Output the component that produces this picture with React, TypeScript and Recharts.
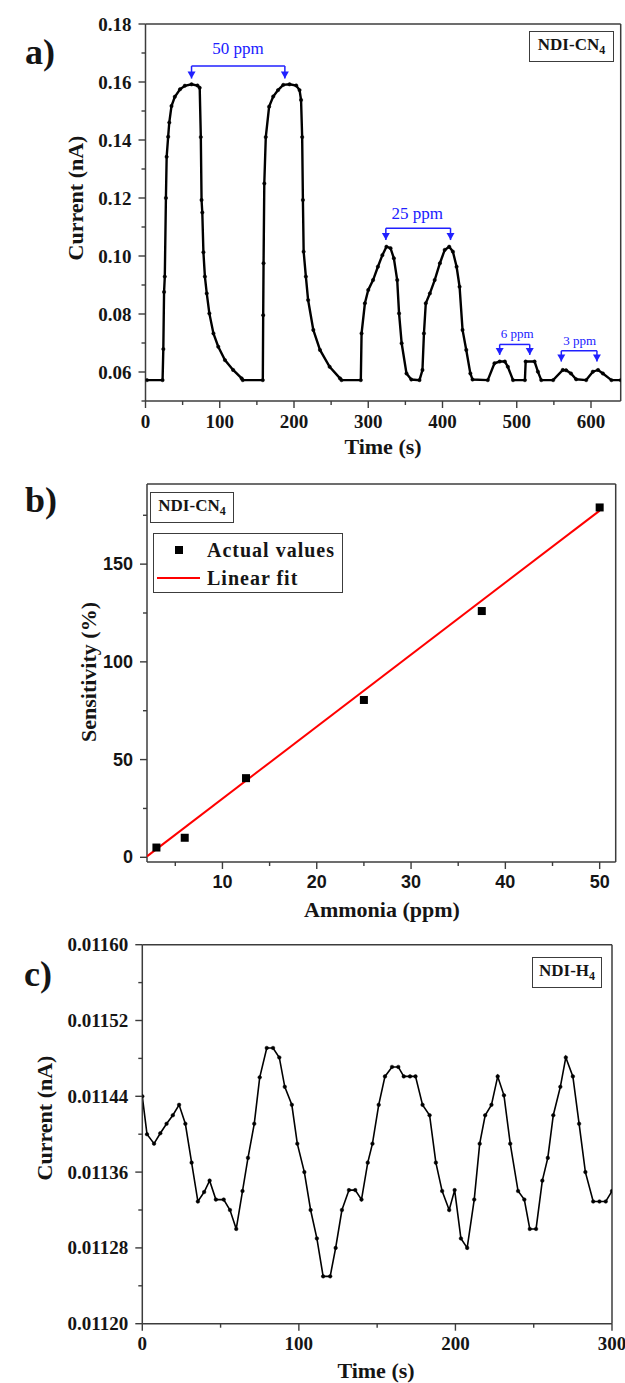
import React from 'react'
import { ComposedChart, Line, Scatter, XAxis, YAxis, ReferenceLine } from 'recharts'

const SERIF = "'Liberation Serif', 'Times New Roman', serif"
const SANS = "'Liberation Sans Narrow', 'Arial Narrow', 'Liberation Sans', Arial, sans-serif"
const BLUE = '#2020ff'
const AXIS = '#3c3c3c'
const INK = '#151515'

// ---- panel a: NDI-CN4 current vs time
const A_TIME = [
  2, 23, 24, 25, 26, 27.5, 28.5, 30.5, 32, 35,
  39.5, 46.5, 53, 62, 70, 73, 74.5, 75.5, 76.5, 78,
  80, 82.5, 86, 91.5, 98, 107, 118, 129.5, 131, 158,
  158.5, 159, 160, 162, 166.5, 172, 178.5, 185.5, 194, 203,
  207.5, 209.5, 211, 212, 213, 216, 219, 226, 235, 248,
  262, 264, 290, 291, 295.5, 300, 306.5, 313, 319, 324.5,
  330, 334.5, 339, 341.5, 345, 351.5, 358, 369, 373, 375,
  377.5, 383, 389.5, 396.5, 403, 409, 414, 419, 423, 427,
  432, 437.5, 440.5, 461, 470, 477, 484, 488, 495, 511,
  512, 524, 528.5, 533, 549, 562, 566.5, 573, 580, 593.5,
  602.5, 609.5, 616, 627.5, 640,
]
const A_CURRENT = [
  0.0572, 0.0572, 0.0679, 0.0876, 0.0929, 0.12, 0.1342, 0.1411, 0.146, 0.1517,
  0.1549, 0.1575, 0.1587, 0.1592, 0.1588, 0.158, 0.141, 0.1193, 0.115, 0.1013,
  0.0929, 0.0871, 0.0802, 0.0733, 0.0687, 0.0641, 0.0607, 0.0578, 0.0572, 0.0572,
  0.0796, 0.0975, 0.125, 0.141, 0.1515, 0.155, 0.1572, 0.159, 0.1592, 0.1588,
  0.1572, 0.1538, 0.141, 0.1193, 0.1015, 0.0929, 0.0848, 0.0745, 0.0676, 0.0618,
  0.0578, 0.0572, 0.0572, 0.0733, 0.0837, 0.0883, 0.0917, 0.0963, 0.1003, 0.1032,
  0.1027, 0.0992, 0.0917, 0.0802, 0.0699, 0.0595, 0.0574, 0.0572, 0.0607, 0.0733,
  0.0837, 0.0871, 0.0917, 0.0975, 0.1021, 0.1032, 0.1015, 0.0963, 0.0894, 0.0745,
  0.0676, 0.0595, 0.0574, 0.0572, 0.063, 0.0636, 0.0636, 0.0618, 0.0572, 0.0572,
  0.0636, 0.0636, 0.0601, 0.0572, 0.0572, 0.0607, 0.0606, 0.0595, 0.0575, 0.0572,
  0.0601, 0.0607, 0.0595, 0.0572, 0.0572,
]
const A_X_TICKS = [0, 50, 100, 150, 200, 250, 300, 350, 400, 450, 500, 550, 600]
const A_X_MAJOR = [0, 100, 200, 300, 400, 500, 600]
const A_Y_TICKS = [0.05, 0.06, 0.07, 0.08, 0.09, 0.1, 0.11, 0.12, 0.13, 0.14, 0.15, 0.16, 0.17, 0.18]
const A_Y_MAJOR = [0.06, 0.08, 0.1, 0.12, 0.14, 0.16, 0.18]

// concentration brackets drawn over the pulses
const BRACKET_LABELS = ['50 ppm', '25 ppm', '6 ppm', '3 ppm']
const BRACKET_FROM = [62, 323.7, 477, 560]
const BRACKET_TO = [187.7, 410.8, 517.5, 608]
const BRACKET_Y = [0.1655, 0.1096, 0.0695, 0.0673]
const BRACKET_TIP = [0.1612, 0.1055, 0.0659, 0.0636]
const BRACKET_TEXT_X = [124.5, 366, 500.7, 584.8]
const BRACKET_TEXT_Y = [0.1714, 0.1147, 0.0734, 0.071]

// ---- panel b: sensitivity vs ammonia
const B_PPM = [3, 6, 12.5, 25, 37.5, 50]
const B_SENS = [5, 10, 40.5, 80.5, 126, 179]
const FIT_PPM = [2, 50]
const FIT_SENS = [0.5, 177.4]
const B_X_TICKS = [5, 10, 15, 20, 25, 30, 35, 40, 45, 50]
const B_X_MAJOR = [10, 20, 30, 40, 50]
const B_Y_TICKS = [0, 25, 50, 75, 100, 125, 150, 175]
const B_Y_MAJOR = [0, 50, 100, 150]

// ---- panel c: NDI-H4 current vs time
const C_TIME = [
  0, 3, 7.5, 11.5, 15.5, 19.5, 23.5, 27.5, 31.5, 35.5,
  39.5, 43, 47, 52, 56, 60, 64, 67.5, 71.5, 75,
  79.5, 83.5, 87.5, 91, 95.5, 99, 103.5, 107.5, 111.5, 115.5,
  120, 123.5, 127.5, 132, 136, 140, 144, 147, 151, 155,
  159.5, 163.5, 167, 171, 174.5, 179, 183.5, 187.5, 191.5, 196,
  199.5, 203.5, 207.5, 212, 215.5, 219, 223, 227, 231, 235,
  240, 244, 247.5, 251.5, 255.5, 259, 262.5, 267, 270.5, 275,
  279, 283, 288, 292, 296, 300,
]
const C_CURRENT = [
  0.01144, 0.0114, 0.01139, 0.011401, 0.011411, 0.01142, 0.011431, 0.011411, 0.01137, 0.011329,
  0.011339, 0.011351, 0.011331, 0.011331, 0.01132, 0.0113, 0.01134, 0.011375, 0.011411, 0.01146,
  0.011491, 0.011491, 0.011481, 0.01145, 0.011431, 0.01139, 0.01136, 0.01132, 0.01129, 0.01125,
  0.01125, 0.01128, 0.01132, 0.011341, 0.011341, 0.011331, 0.01137, 0.01139, 0.011431, 0.011461,
  0.011471, 0.011471, 0.011461, 0.011461, 0.011461, 0.011431, 0.01142, 0.01137, 0.01134, 0.01132,
  0.011341, 0.01129, 0.01128, 0.011331, 0.01139, 0.01142, 0.011431, 0.011461, 0.011441, 0.01139,
  0.01134, 0.011331, 0.0113, 0.0113, 0.011351, 0.011375, 0.01142, 0.01145, 0.011481, 0.011461,
  0.011411, 0.01136, 0.011329, 0.011329, 0.011329, 0.01134,
]
const C_X_TICKS = [0, 50, 100, 150, 200, 250, 300]
const C_X_MAJOR = [0, 100, 200, 300]
const C_Y_TICKS = [0.0112, 0.01124, 0.01128, 0.01132, 0.01136, 0.0114, 0.01144, 0.01148, 0.01152, 0.01156, 0.0116]
const C_Y_MAJOR = [0.0112, 0.01128, 0.01136, 0.01144, 0.01152, 0.0116]

const aData = A_TIME.map((t, i) => ({ t, current: A_CURRENT[i] }))
const cData = C_TIME.map((t, i) => ({ t, current: C_CURRENT[i] }))
const bPoints = B_PPM.map((ppm, i) => ({ ppm, sens: B_SENS[i] }))
const bFit = FIT_PPM.map((ppm, i) => ({ ppm, sens: FIT_SENS[i] }))
const tips = BRACKET_LABELS.flatMap((_, i) => [
  { t: BRACKET_FROM[i], y: BRACKET_TIP[i] },
  { t: BRACKET_TO[i], y: BRACKET_TIP[i] },
])
const bracketText = BRACKET_LABELS.map((label, i) => ({
  t: BRACKET_TEXT_X[i],
  y: BRACKET_TEXT_Y[i],
  label,
  big: i < 2,
}))

// tick with major/minor marks drawn by hand (recharts has no minor ticks)
function Tick(props: any) {
  const { x, y, payload, side, majors, fmt, font, size } = props
  const v = payload.value
  const major = majors.some((m: number) => Math.abs(m - v) < 1e-9)
  const len = major ? 7 : 4
  if (side === 'bottom') {
    return (
      <g>
        <line x1={x} y1={y} x2={x} y2={y + len} stroke={AXIS} strokeWidth={1.4} />
        {major && (
          <text x={x} y={y + 20} textAnchor="middle" dominantBaseline="central"
            fontFamily={font} fontSize={size} fontWeight="bold" fill={INK}>
            {fmt(v)}
          </text>
        )}
      </g>
    )
  }
  return (
    <g>
      <line x1={x} y1={y} x2={x - len} y2={y} stroke={AXIS} strokeWidth={1.4} />
      {major && (
        <text x={x - 14} y={y} textAnchor="end" dominantBaseline="central"
          fontFamily={font} fontSize={size} fontWeight="bold" fill={INK}>
          {fmt(v)}
        </text>
      )}
    </g>
  )
}

function Txt({ x, y, size = 22, rotate = 0, children }: any) {
  return (
    <div
      style={{
        position: 'absolute', left: x, top: y, whiteSpace: 'nowrap',
        transform: `translate(-50%, -50%) rotate(${rotate}deg)`,
        fontFamily: SERIF, fontWeight: 'bold', fontSize: size, color: INK, lineHeight: 1,
      }}
    >
      {children}
    </div>
  )
}

function NameBox({ x, y, w, h, name }: any) {
  return (
    <div
      style={{
        position: 'absolute', left: x, top: y, width: w, height: h, boxSizing: 'border-box',
        border: `1.3px solid ${AXIS}`, background: '#fff', display: 'flex',
        alignItems: 'center', justifyContent: 'center',
        fontFamily: SERIF, fontWeight: 'bold', fontSize: 17, color: INK,
      }}
    >
      <span>{name}<sub style={{ fontSize: 12 }}>4</sub></span>
    </div>
  )
}

const axisCommon = {
  tickLine: false,
  tickSize: 0,
  tickMargin: 0,
  interval: 0 as const,
  allowDataOverflow: true,
  axisLine: { stroke: AXIS, strokeWidth: 1.5 },
}

export default function App() {
  const timesFmt = (v: number) => String(v)
  return (
    <div style={{ position: 'absolute', left: 0, top: 0, width: 625, height: 1383, background: '#fff' }}>
      {/* a) */}
      <div style={{ position: 'absolute', left: 0, top: 0 }}>
        <ComposedChart width={625} height={460} data={aData} margin={{ top: 24, right: 4.3, bottom: 0, left: 0 }}>
          <XAxis type="number" dataKey="t" domain={[0, 640]} ticks={A_X_TICKS} height={59} {...axisCommon}
            tick={(p: any) => <Tick {...p} side="bottom" majors={A_X_MAJOR} fmt={timesFmt} font={SERIF} size={19} />} />
          <YAxis type="number" domain={[0.05, 0.18]} ticks={A_Y_TICKS} width={145.5} {...axisCommon}
            tick={(p: any) => <Tick {...p} side="left" majors={A_Y_MAJOR} fmt={(v: number) => v.toFixed(2)} font={SERIF} size={19} />} />
          <ReferenceLine y={0.18} stroke={AXIS} strokeWidth={1.5} />
          <ReferenceLine x={640} stroke={AXIS} strokeWidth={1.5} />
          {BRACKET_LABELS.map((l, i) => (
            <ReferenceLine key={`h${l}`} segment={[{ x: BRACKET_FROM[i], y: BRACKET_Y[i] }, { x: BRACKET_TO[i], y: BRACKET_Y[i] }]}
              stroke={BLUE} strokeWidth={1.5} />
          ))}
          {BRACKET_LABELS.map((l, i) => (
            <ReferenceLine key={`l${l}`} segment={[{ x: BRACKET_FROM[i], y: BRACKET_Y[i] }, { x: BRACKET_FROM[i], y: BRACKET_TIP[i] }]}
              stroke={BLUE} strokeWidth={1.5} />
          ))}
          {BRACKET_LABELS.map((l, i) => (
            <ReferenceLine key={`r${l}`} segment={[{ x: BRACKET_TO[i], y: BRACKET_Y[i] }, { x: BRACKET_TO[i], y: BRACKET_TIP[i] }]}
              stroke={BLUE} strokeWidth={1.5} />
          ))}
          <Line dataKey="current" stroke="#000" strokeWidth={2.4} isAnimationActive={false}
            dot={{ r: 1.7, fill: '#000', stroke: '#000', strokeWidth: 0.5 }} activeDot={false} />
          <Scatter data={tips} dataKey="y" isAnimationActive={false}
            shape={(p: any) => (
              <path d={`M${p.cx},${p.cy} L${p.cx - 4},${p.cy - 7} L${p.cx + 4},${p.cy - 7} Z`} fill={BLUE} />
            )} />
          <Scatter data={bracketText} dataKey="y" isAnimationActive={false}
            shape={(p: any) => (
              <text x={p.cx} y={p.cy} textAnchor="middle" dominantBaseline="central"
                fontFamily={SERIF} fontSize={p.payload.big ? 17 : 13} fill={BLUE}>
                {p.payload.label}
              </text>
            )} />
        </ComposedChart>
      </div>

      {/* b) */}
      <div style={{ position: 'absolute', left: 0, top: 465 }}>
        <ComposedChart width={625} height={455} margin={{ top: 19, right: 9.3, bottom: 0, left: 0 }}>
          <XAxis type="number" dataKey="ppm" domain={[2, 51.7]} ticks={B_X_TICKS} height={58} {...axisCommon}
            tick={(p: any) => <Tick {...p} side="bottom" majors={B_X_MAJOR} fmt={timesFmt} font={SANS} size={18} />} />
          <YAxis type="number" domain={[-2.4, 191]} ticks={B_Y_TICKS} width={147} {...axisCommon}
            tick={(p: any) => <Tick {...p} side="left" majors={B_Y_MAJOR} fmt={timesFmt} font={SANS} size={18} />} />
          <ReferenceLine y={191} stroke={AXIS} strokeWidth={1.5} />
          <ReferenceLine x={51.7} stroke={AXIS} strokeWidth={1.5} />
          <Scatter data={bFit} dataKey="sens" isAnimationActive={false}
            line={{ stroke: '#ff0000', strokeWidth: 2 }} shape={() => <g />} />
          <Scatter data={bPoints} dataKey="sens" isAnimationActive={false}
            shape={(p: any) => <rect x={p.cx - 4} y={p.cy - 4} width={8} height={8} fill="#000" />} />
        </ComposedChart>
      </div>

      {/* c) */}
      <div style={{ position: 'absolute', left: 0, top: 925 }}>
        <ComposedChart width={625} height={458} data={cData} margin={{ top: 19.7, right: 13, bottom: 0, left: 0 }}>
          <XAxis type="number" dataKey="t" domain={[0, 300]} ticks={C_X_TICKS} height={59.3} {...axisCommon}
            tick={(p: any) => <Tick {...p} side="bottom" majors={C_X_MAJOR} fmt={timesFmt} font={SERIF} size={19} />} />
          <YAxis type="number" domain={[0.0112, 0.0116]} ticks={C_Y_TICKS} width={142.3} {...axisCommon}
            tick={(p: any) => <Tick {...p} side="left" majors={C_Y_MAJOR} fmt={(v: number) => v.toFixed(5)} font={SERIF} size={19} />} />
          <ReferenceLine y={0.0116} stroke={AXIS} strokeWidth={1.5} />
          <ReferenceLine x={300} stroke={AXIS} strokeWidth={1.5} />
          <Line dataKey="current" stroke="#000" strokeWidth={1.6} isAnimationActive={false}
            dot={{ r: 1.8, fill: '#000', stroke: '#000', strokeWidth: 0.5 }} activeDot={false} />
        </ComposedChart>
      </div>

      {/* panel letters, axis titles, name tags */}
      <Txt x={40} y={52} size={36}>a)</Txt>
      <Txt x={41} y={500} size={36}>b)</Txt>
      <Txt x={38} y={974} size={36}>c)</Txt>

      <Txt x={76} y={198} rotate={-90}>Current (nA)</Txt>
      <Txt x={383} y={447}>Time (s)</Txt>
      <Txt x={89} y={672} rotate={-90}>Sensitivity (%)</Txt>
      <Txt x={382} y={910}>Ammonia (ppm)</Txt>
      <Txt x={45} y={1118} rotate={-90}>Current (nA)</Txt>
      <Txt x={376} y={1371}>Time (s)</Txt>

      <NameBox x={529} y={31} w={85} h={31} name="NDI-CN" />
      <NameBox x={150} y={492} w={84} h={31} name="NDI-CN" />
      <NameBox x={532} y={957} w={70} h={31} name="NDI-H" />

      {/* legend of panel b */}
      <div style={{
        position: 'absolute', left: 153, top: 533, width: 190, height: 60, boxSizing: 'border-box',
        border: `1.3px solid ${AXIS}`, background: '#fff',
      }}>
        <div style={{ position: 'absolute', left: 21, top: 12, width: 8, height: 8, background: '#000' }} />
        <div style={{ position: 'absolute', left: 3, top: 43, width: 43, height: 2, background: '#ff0000' }} />
        <div style={{ position: 'absolute', left: 53, top: 4, fontFamily: SERIF, fontWeight: 'bold', fontSize: 20, letterSpacing: 1, color: INK, lineHeight: '24px' }}>
          Actual values
        </div>
        <div style={{ position: 'absolute', left: 53, top: 32, fontFamily: SERIF, fontWeight: 'bold', fontSize: 20, letterSpacing: 1, color: INK, lineHeight: '24px' }}>
          Linear fit
        </div>
      </div>
    </div>
  )
}
